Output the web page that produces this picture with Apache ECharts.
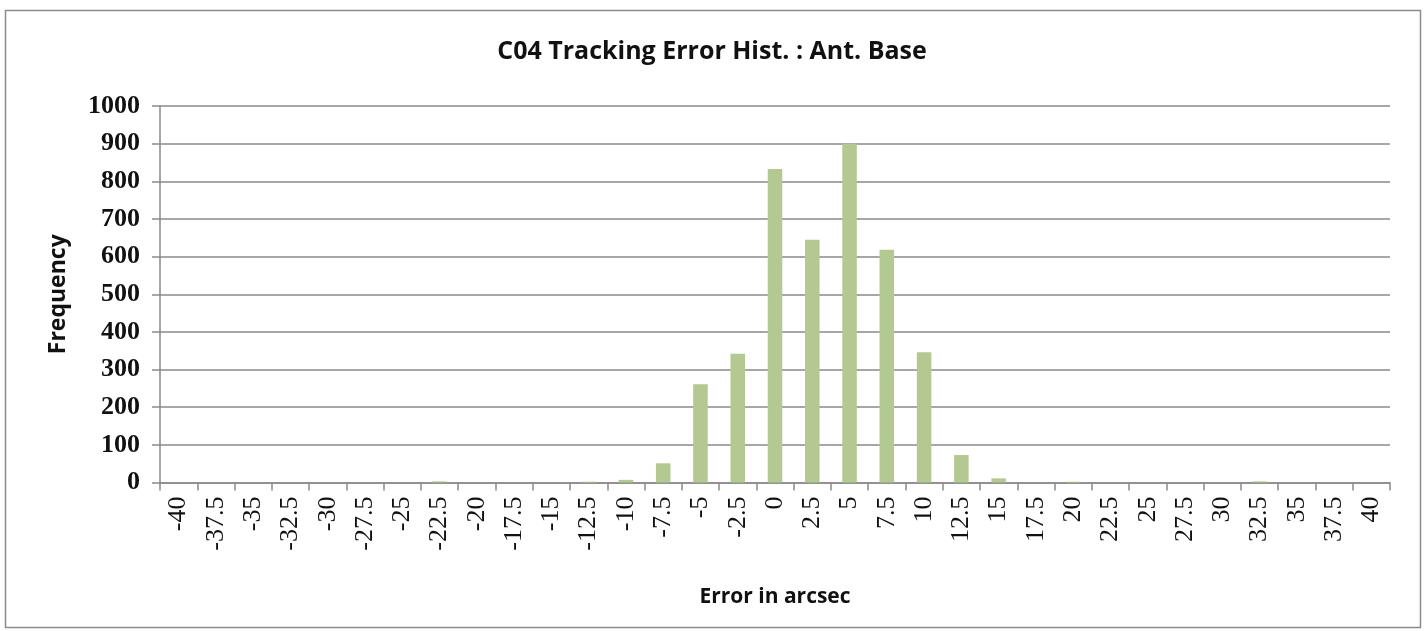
<!DOCTYPE html>
<html>
<head>
<meta charset="utf-8">
<script src="https://cdn.jsdelivr.net/npm/echarts@6/dist/echarts.min.js"></script>
<style>
html,body{margin:0;padding:0;background:#fff;}
#chart{width:1427px;height:631px;}
</style>
</head>
<body>
<div id="chart"></div>
<script>
// bins of the histogram (arcsec)
var categories = ['-40','-37.5','-35','-32.5','-30','-27.5','-25','-22.5','-20','-17.5','-15','-12.5','-10','-7.5','-5','-2.5','0','2.5','5','7.5','10','12.5','15','17.5','20','22.5','25','27.5','30','32.5','35','37.5','40'];
// counts
var frequency = [0,0,0,0,0,0,0,3,0,0,0,2,7,51,261,342,833,645,900,618,346,73,11,0,2,0,0,0,0,3,0,0,0];

var chart = echarts.init(document.getElementById('chart'));
var serif = '"Liberation Serif", "Times New Roman", serif';
var sans = '"Open Sans", "Noto Sans", sans-serif';

chart.setOption({
  animation: false,
  graphic: [{
    type: 'rect',
    shape: {x: 5.5, y: 10.5, width: 1415, height: 617},
    style: {fill: 'none', stroke: '#8c8c8c', lineWidth: 1.5}
  }],
  title: {
    text: 'C04 Tracking Error Hist. : Ant. Base',
    left: 707,
    textAlign: 'center',
    top: 34,
    textStyle: {fontFamily: sans, fontSize: 25, fontWeight: 'bold', color: '#111'}
  },
  grid: {left: 160, right: 37, top: 106, bottom: 148.5},
  xAxis: {
    type: 'category',
    data: categories,
    name: 'Error in arcsec',
    nameLocation: 'middle',
    nameGap: 104,
    nameTextStyle: {fontFamily: sans, fontSize: 21, fontWeight: 'bold', color: '#111'},
    axisLine: {lineStyle: {color: '#8a8a8a', width: 1.5}},
    axisTick: {show: true, length: 8, lineStyle: {color: '#8a8a8a', width: 1.5}},
    axisLabel: {rotate: 90, interval: 0, margin: 14, fontFamily: serif, fontSize: 26, color: '#111'}
  },
  yAxis: {
    type: 'value',
    min: 0,
    max: 1000,
    interval: 100,
    name: 'Frequency',
    nameLocation: 'middle',
    nameGap: 90,
    nameTextStyle: {fontFamily: sans, fontSize: 23, fontWeight: 'bold', color: '#111'},
    axisLine: {show: true, lineStyle: {color: '#8a8a8a', width: 1.5}},
    axisTick: {show: true, length: 8, lineStyle: {color: '#8a8a8a', width: 1.5}},
    axisLabel: {
      margin: 20, fontFamily: serif, fontSize: 26, fontWeight: 'bold', color: '#111',
      formatter: function (v) { return String(v); }
    },
    splitLine: {lineStyle: {color: '#8a8a8a', width: 1.5}}
  },
  series: [{
    type: 'bar',
    data: frequency,
    barWidth: '39%',
    itemStyle: {color: '#b4c992'}
  }]
});
</script>
</body>
</html>
